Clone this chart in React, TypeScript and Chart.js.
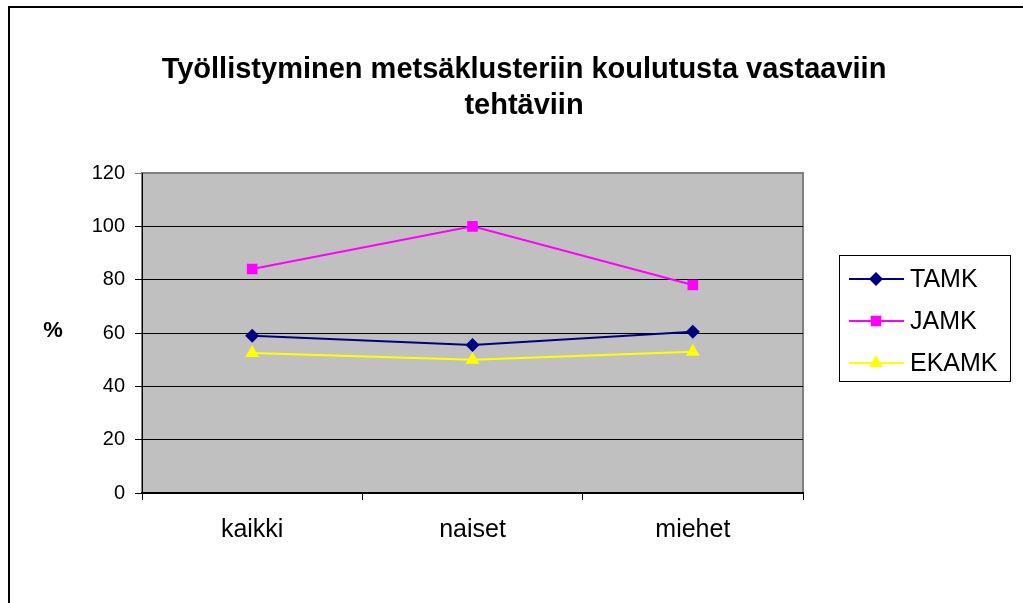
import React, { useEffect, useRef } from 'react';
import { Chart, registerables } from 'chart.js';

Chart.register(...registerables);

const categories = ['kaikki', 'naiset', 'miehet'];
const seriesNames = ['TAMK', 'JAMK', 'EKAMK'];
const tamkValues = [59, 55.5, 60.5];
const jamkValues = [84, 100, 78];
const ekamkValues = [52.5, 50, 53];
const titleLines = ['Työllistyminen metsäklusteriin koulutusta vastaaviin', 'tehtäviin'];
const yAxisLabel = '%';
const yMin = 0;
const yMax = 120;
const yStep = 20;

const FONT = '"Liberation Sans", Arial, sans-serif';
const colors = ['#000080', '#FF00FF', '#FFFF00'];
const pointStyles = ['rectRot', 'rect', 'triangle'];
const pointRadii = [7, 7.5, 8];

function drawMarker(ctx: CanvasRenderingContext2D, style: string, x: number, y: number, r: number, color: string) {
  ctx.save();
  ctx.fillStyle = color;
  ctx.beginPath();
  if (style === 'rectRot') {
    ctx.moveTo(x, y - r);
    ctx.lineTo(x + r, y);
    ctx.lineTo(x, y + r);
    ctx.lineTo(x - r, y);
    ctx.closePath();
  } else if (style === 'rect') {
    const s = r * Math.SQRT1_2;
    ctx.rect(x - s, y - s, 2 * s, 2 * s);
  } else {
    ctx.moveTo(x, y - r);
    ctx.lineTo(x + r * 0.866, y + r / 2);
    ctx.lineTo(x - r * 0.866, y + r / 2);
    ctx.closePath();
  }
  ctx.fill();
  ctx.restore();
}

const decorPlugin = {
  id: 'decor',
  beforeDraw(chart: any) {
    const { ctx, chartArea } = chart;
    ctx.save();
    ctx.fillStyle = '#FFFFFF';
    ctx.fillRect(0, 0, chart.width, chart.height);
    // outer frame (left and top)
    ctx.strokeStyle = '#000000';
    ctx.lineWidth = 2;
    ctx.beginPath();
    ctx.moveTo(9, chart.height);
    ctx.lineTo(9, 7);
    ctx.lineTo(chart.width, 7);
    ctx.stroke();
    // plot background
    ctx.fillStyle = '#C0C0C0';
    ctx.fillRect(chartArea.left, chartArea.top, chartArea.right - chartArea.left, chartArea.bottom - chartArea.top);
    ctx.strokeStyle = '#808080';
    ctx.lineWidth = 2;
    ctx.strokeRect(chartArea.left, chartArea.top, chartArea.right - chartArea.left, chartArea.bottom - chartArea.top);
    ctx.restore();
  },
  afterDraw(chart: any) {
    const { ctx } = chart;
    ctx.save();
    ctx.fillStyle = '#000000';
    ctx.textAlign = 'center';
    ctx.textBaseline = 'alphabetic';
    ctx.font = `bold 29px ${FONT}`;
    ctx.fillText(titleLines[0], 524, 78);
    ctx.fillText(titleLines[1], 524, 114);
    ctx.font = `bold 22px ${FONT}`;
    ctx.textBaseline = 'middle';
    ctx.fillText(yAxisLabel, 53, 331);
    // legend
    ctx.strokeStyle = '#000000';
    ctx.lineWidth = 1;
    ctx.strokeRect(839.5, 255.5, 171, 126);
    ctx.font = `25px ${FONT}`;
    ctx.textAlign = 'left';
    const ys = [279, 321, 363];
    seriesNames.forEach((name, i) => {
      const y = ys[i];
      ctx.strokeStyle = colors[i];
      ctx.lineWidth = 2;
      ctx.beginPath();
      ctx.moveTo(849, y);
      ctx.lineTo(904, y);
      ctx.stroke();
      drawMarker(ctx, pointStyles[i], 876, y, pointRadii[i], colors[i]);
      ctx.fillStyle = '#000000';
      ctx.fillText(name, 910, y + 1);
    });
    ctx.restore();
  },
};

export default function App() {
  const canvasRef = useRef<HTMLCanvasElement | null>(null);

  useEffect(() => {
    document.body.style.overflow = 'hidden';
    const canvas = canvasRef.current;
    if (!canvas) return;
    const values = [tamkValues, jamkValues, ekamkValues];
    const chart = new Chart(canvas, {
      type: 'line',
      data: {
        labels: categories,
        datasets: seriesNames.map((name, i) => ({
          label: name,
          data: values[i],
          borderColor: colors[i],
          backgroundColor: colors[i],
          pointBackgroundColor: colors[i],
          pointBorderColor: colors[i],
          pointBorderWidth: 0,
          pointStyle: pointStyles[i] as any,
          pointRadius: pointRadii[i],
          borderWidth: 2,
          tension: 0,
          fill: false,
        })),
      },
      options: {
        animation: false,
        responsive: true,
        maintainAspectRatio: false,
        devicePixelRatio: 1,
        font: { family: FONT } as any,
        layout: { padding: { left: 42, right: 220, top: 173, bottom: 0 } },
        plugins: {
          legend: { display: false },
          title: { display: false },
          tooltip: { enabled: false },
        },
        scales: {
          x: {
            type: 'category',
            offset: true,
            afterFit: (scale: any) => { scale.height = 110; },
            grid: {
              offset: true,
              drawOnChartArea: false,
              drawTicks: true,
              tickLength: 7,
              color: '#000000',
              lineWidth: 1,
            },
            border: { color: '#000000', width: 2 },
            ticks: {
              color: '#000000',
              font: { family: FONT, size: 25 },
              padding: 15,
              maxRotation: 0,
            },
          },
          y: {
            min: yMin,
            max: yMax,
            afterFit: (scale: any) => { scale.width = 100; },
            grid: {
              drawTicks: true,
              tickLength: 7,
              color: (c: any) => (c.tick && c.tick.value === yMax ? '#808080' : '#000000'),
              lineWidth: 1,
            },
            border: { color: '#000000', width: 1 },
            ticks: {
              stepSize: yStep,
              color: '#000000',
              font: { family: FONT, size: 20 },
              padding: 10,
            },
          },
        },
      },
      plugins: [decorPlugin],
    });
    return () => chart.destroy();
  }, []);

  return (
    <div style={{ position: 'fixed', left: 0, top: 0, width: 1023, height: 603, background: '#fff' }}>
      <canvas ref={canvasRef} />
    </div>
  );
}
